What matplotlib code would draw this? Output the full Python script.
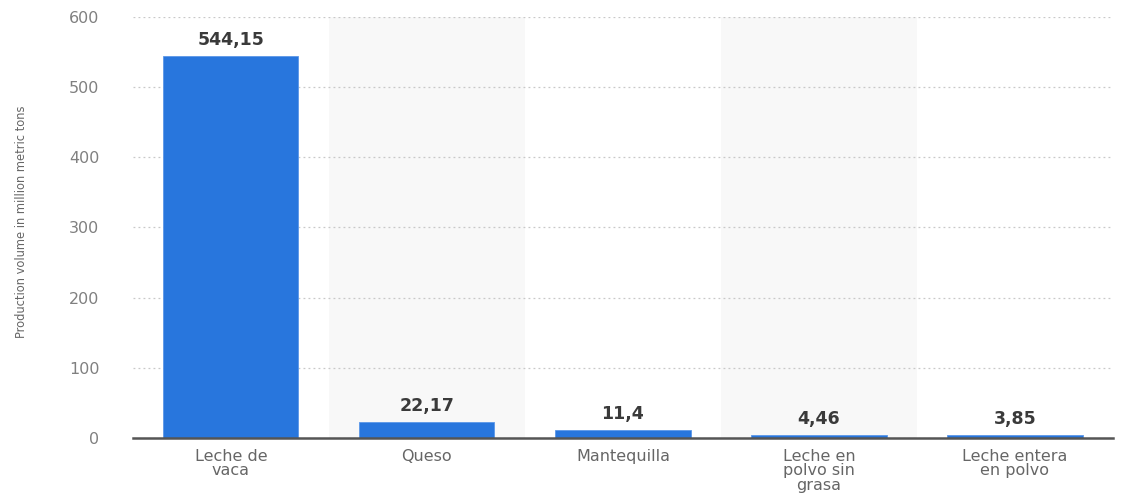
import matplotlib
matplotlib.use("Agg")
import matplotlib.pyplot as plt
import numpy as np

plt.rcParams["font.family"] = ["DejaVu Sans"]

categories = ["Leche de\nvaca", "Queso", "Mantequilla", "Leche en\npolvo sin\ngrasa", "Leche entera\nen polvo"]
values = [544.15, 22.17, 11.4, 4.46, 3.85]
value_labels = ["544,15", "22,17", "11,4", "4,46", "3,85"]
y_ticks = [0, 100, 200, 300, 400, 500, 600]
y_label = "Production volume in million metric tons"

fig = plt.figure(figsize=(11.45, 4.93), dpi=100)
ax = fig.add_axes([0.116, 0.1116, 0.856, 0.854])

x = np.arange(len(categories))
for i in x:
    if i % 2 == 1:
        ax.axvspan(i - 0.5, i + 0.5, color="#f8f8f8", zorder=0, lw=0)

ax.bar(x, values, width=0.69, color="#2876dd", edgecolor="#5b97e8", linewidth=0.6, zorder=3)

for xi, v, lab in zip(x, values, value_labels):
    ax.annotate(lab, (xi, v), xytext=(0, 5), textcoords="offset points",
                ha="center", va="bottom", fontsize=12.5, fontweight="bold",
                color="#3a3a3a", zorder=4)

ax.set_xlim(-0.5, len(categories) - 0.5)
ax.set_ylim(0, 600)
ax.set_yticks(y_ticks)
ax.set_yticklabels([str(t) for t in y_ticks], color="#808080", fontsize=11.5)
ax.set_xticks(x)
ax.set_xticklabels(categories, color="#666666", fontsize=11.5, linespacing=0.95)
ax.tick_params(axis="y", length=0, pad=24)
ax.tick_params(axis="x", length=0, pad=8)

ax.yaxis.grid(True, linestyle=(0, (1.5, 2.5)), color="#c8c8c8", linewidth=0.9, zorder=1)
ax.set_axisbelow(True)
for s in ["top", "right", "left"]:
    ax.spines[s].set_visible(False)
ax.spines["bottom"].set_color("#555555")
ax.spines["bottom"].set_linewidth(1.8)
ax.spines["bottom"].set_zorder(5)

fig.text(0.019, 0.55, y_label, rotation=90, ha="center", va="center",
         fontsize=9.2, color="#666666", family="DejaVu Sans", fontstretch="condensed")

fig.savefig("out.png", dpi=100)
